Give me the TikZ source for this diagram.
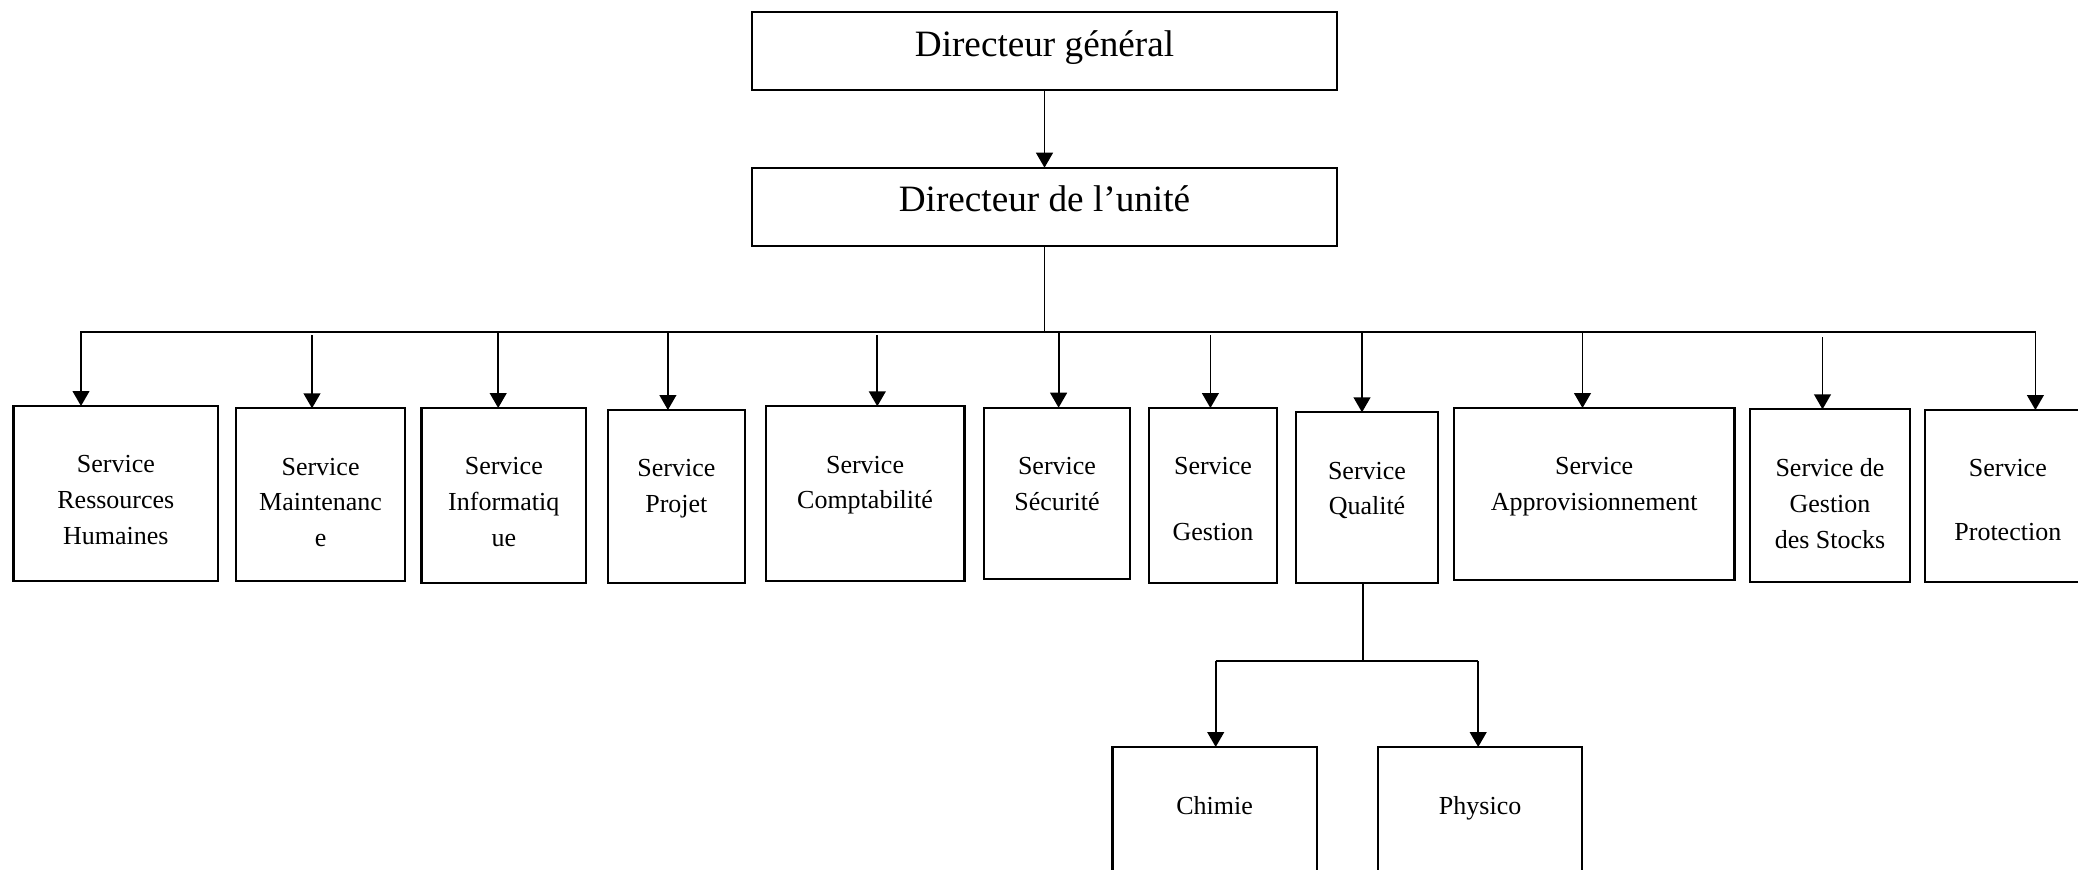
\documentclass[tikz,border=0pt]{standalone}
\usepackage{fontspec}
\setmainfont{Liberation Serif}
\usetikzlibrary{arrows.meta,fit}
\begin{document}
\begin{tikzpicture}[x=0.5pt,y=-0.5pt,
  box/.style={draw, line width=1.1pt, inner sep=0pt, outer sep=0pt, rectangle},
  conn/.style={line width=0.9pt},
  arr/.style={conn, -{Triangle[length=7.5pt,width=8.4pt]}},
  dirtext/.style={anchor=base, inner sep=0pt, font=\fontsize{18.6}{22}\selectfont},
  svctext/.style={anchor=north, inner sep=0pt, align=center, font=\fontsize{13}{17.8}\selectfont}]
\useasboundingbox (0,0) rectangle (2078,869);
\clip (0,0) rectangle (2078,869);
% directors
\node[box, fit={(752,12.3) (1337,90.3)}] (dg) {};
\node[dirtext] (dgt) at ([yshift=-22pt]dg.north) {Directeur général};
\node[box, fit={(752,167.7) (1337,245.7)}] (du) {};
\node[dirtext] (dut) at ([yshift=-22pt]du.north) {Directeur de l’unité};
\draw[arr] (dg.south) -- (du.north);
% services
\node[box, fit={(13.4,406) (218.3,580.7)}] (rh) {};
\node[svctext] (rht) at ([yshift=-24.6pt]rh.north) {Service\\Ressources\\Humaines};
\node[box, fit={(236.2,408.3) (404.9,581)}] (mt) {};
\node[svctext] (mtt) at ([yshift=-24.6pt]mt.north) {Service\\Maintenanc\\e};
\node[box, fit={(421.4,408) (586.2,582.7)}] (inf) {};
\node[svctext] (inft) at ([yshift=-24.6pt]inf.north) {Service\\Informatiq\\ue};
\node[box, fit={(608,410) (744.7,582.7)}] (pj) {};
\node[svctext] (pjt) at ([yshift=-24.6pt]pj.north) {Service\\Projet};
\node[box, fit={(765.7,406.3) (964.4,580.7)}] (cp) {};
\node[svctext] (cpt) at ([yshift=-24.6pt]cp.north) {Service\\Comptabilité};
\node[box, fit={(984,407.7) (1130,579.3)}] (sc) {};
\node[svctext] (sct) at ([yshift=-24.6pt]sc.north) {Service\\Sécurité};
\node[box, fit={(1148.75,408) (1277.3,582.7)}] (gs) {};
\node[svctext] (gst) at ([yshift=-24.6pt]gs.north) {Service\\[15.1pt]Gestion};
\node[box, fit={(1296,412.3) (1438,582.7)}] (ql) {};
\node[svctext] (qlt) at ([yshift=-24.6pt]ql.north) {Service\\Qualité};
\node[box, fit={(1453.9,408) (1734.5,580)}] (ap) {};
\node[svctext] (apt) at ([yshift=-24.6pt]ap.north) {Service\\Approvisionnement};
\node[box, fit={(1750,409.3) (1910,582)}] (st) {};
\node[svctext] (stt) at ([yshift=-24.6pt]st.north) {Service de\\Gestion\\des Stocks};
\node[box, fit={(1924.6,410) (2091,582)}] (pr) {};
\node[svctext] (prt) at ([yshift=-24.6pt]pr.north) {Service\\[13.8pt]Protection};
% bus
\coordinate (bl) at (80.4,331.7);
\coordinate (br) at (2036,331.7);
\draw[conn] (bl) -- (br);
\draw[conn] (du.south) -- (du.south |- bl);
\coordinate (d1) at (81,331.7);
\coordinate (d2) at (312,335);
\coordinate (d3) at (498.2,331.7);
\coordinate (d4) at (667.9,331.7);
\coordinate (d5) at (877.3,335);
\coordinate (d6) at (1058.6,331.7);
\coordinate (d7) at (1210.4,335);
\coordinate (d8) at (1362,331.7);
\coordinate (d9) at (1582.5,331.7);
\coordinate (d10) at (1822.5,337.3);
\coordinate (d11) at (2035.4,331.7);
\draw[arr] (d1) -- (d1 |- rh.north);
\draw[arr] (d2) -- (d2 |- mt.north);
\draw[arr] (d3) -- (d3 |- inf.north);
\draw[arr] (d4) -- (d4 |- pj.north);
\draw[arr] (d5) -- (d5 |- cp.north);
\draw[arr] (d6) -- (d6 |- sc.north);
\draw[arr] (d7) -- (d7 |- gs.north);
\draw[arr] (d8) -- (d8 |- ql.north);
\draw[arr] (d9) -- (d9 |- ap.north);
\draw[arr] (d10) -- (d10 |- st.north);
\draw[arr] (d11) -- (d11 |- pr.north);
% quality sub-units
\node[box, fit={(1112.4,747) (1316.7,900)}] (ch) {};
\node[svctext] (cht) at ([yshift=-24.6pt]ch.north) {Chimie};
\node[box, fit={(1378,747) (1582.3,900)}] (ph) {};
\node[svctext] (pht) at ([yshift=-24.6pt]ph.north) {Physico};
\coordinate (qm) at (1362.7,661);
\coordinate (qL) at (1215.7,661);
\coordinate (qR) at (1478.2,661);
\draw[conn] (qm |- ql.south) -- (qm);
\draw[conn] (qL) -- (qR);
\draw[arr] (qL) -- (qL |- ch.north);
\draw[arr] (qR) -- (qR |- ph.north);
\end{tikzpicture}
\end{document}
